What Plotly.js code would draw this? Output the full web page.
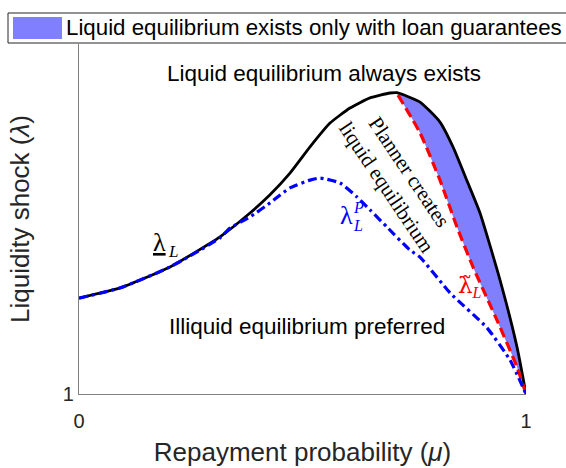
<!DOCTYPE html>
<html>
<head>
<meta charset="utf-8">
<script src="https://cdn.plot.ly/plotly-3.0.1.min.js"></script>
<style>html,body{margin:0;padding:0;background:#fff;}</style>
</head>
<body>
<div id="chart" style="width:566px;height:468px;"></div>
<script>
// Black solid boundary (lambda_L underline)
const blackX = [0, 0.0917, 0.2036, 0.3154, 0.3826, 0.4273, 0.4720, 0.5168, 0.5615, 0.6063, 0.6510, 0.6957, 0.7114, 0.7629, 0.8076, 0.8367, 0.8680, 0.8971, 0.9418, 0.9799, 1.0];
const blackY = [1.274, 1.303, 1.363, 1.449, 1.517, 1.569, 1.631, 1.706, 1.774, 1.817, 1.846, 1.860, 1.861, 1.834, 1.777, 1.706, 1.609, 1.517, 1.326, 1.134, 1.0];
// Blue dash-dot (planner threshold lambda_L^P)
const blueX = [0, 0.0917, 0.2036, 0.3154, 0.3378, 0.3826, 0.4273, 0.4720, 0.5168, 0.5391, 0.5839, 0.6219, 0.6510, 0.6890, 0.7405, 0.7629, 0.8300, 0.9128, 0.9642, 1.0];
const blueY = [1.274, 1.303, 1.363, 1.446, 1.474, 1.506, 1.546, 1.589, 1.611, 1.617, 1.603, 1.563, 1.526, 1.477, 1.411, 1.391, 1.289, 1.189, 1.097, 1.0];
// Red dashed (tilde lambda_L)
const redX = [0.7136, 0.7629, 0.8076, 0.8456, 0.8814, 0.9351, 0.9799, 1.0];
const redY = [1.854, 1.746, 1.611, 1.477, 1.363, 1.211, 1.077, 1.0];

const legendLabel = "Liquid equilibrium exists only with loan guarantees";
const xTickVals = [0, 1];
const xTickText = ["0", "1"];
const yTickVals = [1];
const yTickText = ["1"];

const fillColor = "#8080ff";

// plot area in pixels
const L = 79, R = 526, T = 44, B = 394;
const px = v => (v - L) / (R - L);          // pixel x -> paper x
const py = v => (B - v) / (B - T);          // pixel y -> paper y

// shaded region between black boundary and red line
const fx = [], fy = [];
blackX.forEach((x, i) => { if (x >= redX[0] - 0.003) { fx.push(x); fy.push(blackY[i]); } });
for (let i = redX.length - 1; i >= 0; i--) { fx.push(redX[i]); fy.push(redY[i]); }

const traces = [
  {x: fx, y: fy, type: "scatter", mode: "lines", fill: "toself", fillcolor: fillColor,
   line: {width: 0, color: fillColor, shape: "spline", smoothing: 0.5}, name: legendLabel, showlegend: false, hoverinfo: "skip"},
  {x: blackX, y: blackY, type: "scatter", mode: "lines", line: {color: "#000000", width: 2.8, shape: "spline", smoothing: 0.5}, showlegend: false},
  {x: redX, y: redY, type: "scatter", mode: "lines", line: {color: "#ff0000", width: 3.2, dash: "10px,5px", shape: "spline", smoothing: 0.5}, showlegend: false},
  {x: blueX, y: blueY, type: "scatter", mode: "lines", line: {color: "#0000ff", width: 3.2, dash: "9px,4px,3px,4px", shape: "spline", smoothing: 0.5}, showlegend: false}
];

const sans = "Liberation Sans, Arial, sans-serif";
const serif = "Liberation Serif, Times New Roman, serif";

function lab(pxX, pxY, text, size, color, extra) {
  return Object.assign({xref: "paper", yref: "paper", x: px(pxX), y: py(pxY), showarrow: false,
    xanchor: "center", yanchor: "middle", text: text, font: {family: serif, size: size, color: color}}, extra || {});
}

const layout = {
  width: 566, height: 468,
  margin: {l: L, r: 566 - R, t: T, b: 468 - B, pad: 0},
  paper_bgcolor: "#ffffff", plot_bgcolor: "#ffffff",
  showlegend: false,
  xaxis: {
    range: [0, 1], showgrid: false, zeroline: false, showline: true, linecolor: "#808080", linewidth: 1.2,
    tickvals: xTickVals, ticktext: xTickText, ticks: "", ticklabelstandoff: 9,
    tickfont: {family: sans, size: 20, color: "#262626"},
    title: {text: "Repayment probability (<i>μ</i>)", font: {family: sans, size: 26, color: "#262626"}, standoff: 11},
    automargin: false
  },
  yaxis: {
    range: [1, 2], showgrid: false, zeroline: false, showline: true, linecolor: "#808080", linewidth: 1.2,
    tickvals: yTickVals, ticktext: yTickText, ticks: "", tickfont: {family: sans, size: 20, color: "#262626"},
    title: {text: "Liquidity shock (<i>λ</i>)", font: {family: sans, size: 26, color: "#262626"}, standoff: 25},
    automargin: false
  },
  shapes: [
    {type: "rect", xref: "paper", yref: "paper", x0: px(8), x1: px(620), y0: py(43), y1: py(13),
     line: {color: "#262626", width: 1}, fillcolor: "#ffffff", layer: "above"},
    {type: "rect", xref: "paper", yref: "paper", x0: px(13), x1: px(62), y0: py(39), y1: py(17),
     line: {width: 0}, fillcolor: fillColor, layer: "above"}
  ],
  annotations: [
    {xref: "paper", yref: "paper", x: px(64), y: py(28), xanchor: "left", yanchor: "middle", showarrow: false,
     text: legendLabel, font: {family: sans, size: 22.3, color: "#000000"}},
    {x: 0.549, y: 1.917, showarrow: false, text: "Liquid equilibrium always exists",
     font: {family: sans, size: 22.5, color: "#000000"}},
    {x: 0.509, y: 1.194, showarrow: false, text: "Illiquid equilibrium preferred",
     font: {family: sans, size: 22.5, color: "#000000"}},
    // underline-lambda_L (black)
    lab(159, 243, "<u>λ</u>", 26, "#000000"),
    lab(173, 251, "<i>L</i>", 17, "#000000"),
    // lambda_L^P (blue)
    lab(346, 215, "λ", 26, "#0000ff"),
    lab(358, 208, "<i>P</i>", 16, "#0000ff"),
    lab(358, 225, "<i>L</i>", 16, "#0000ff"),
    // tilde lambda_L (red), single text with combining tilde
    lab(470, 286, "<span style='font-family:DejaVu Serif'>λ\u0303</span><sub><i>L</i></sub>", 23, "#ff0000"),
    {x: 0.7136, y: 1.613, showarrow: false, textangle: 56, align: "center",
     text: "Planner creates<br>liquid equilibrium",
     font: {family: serif, size: 21, color: "#000000"}}
  ]
};

Plotly.newPlot("chart", traces, layout, {staticPlot: true, displayModeBar: false});
</script>
</body>
</html>
